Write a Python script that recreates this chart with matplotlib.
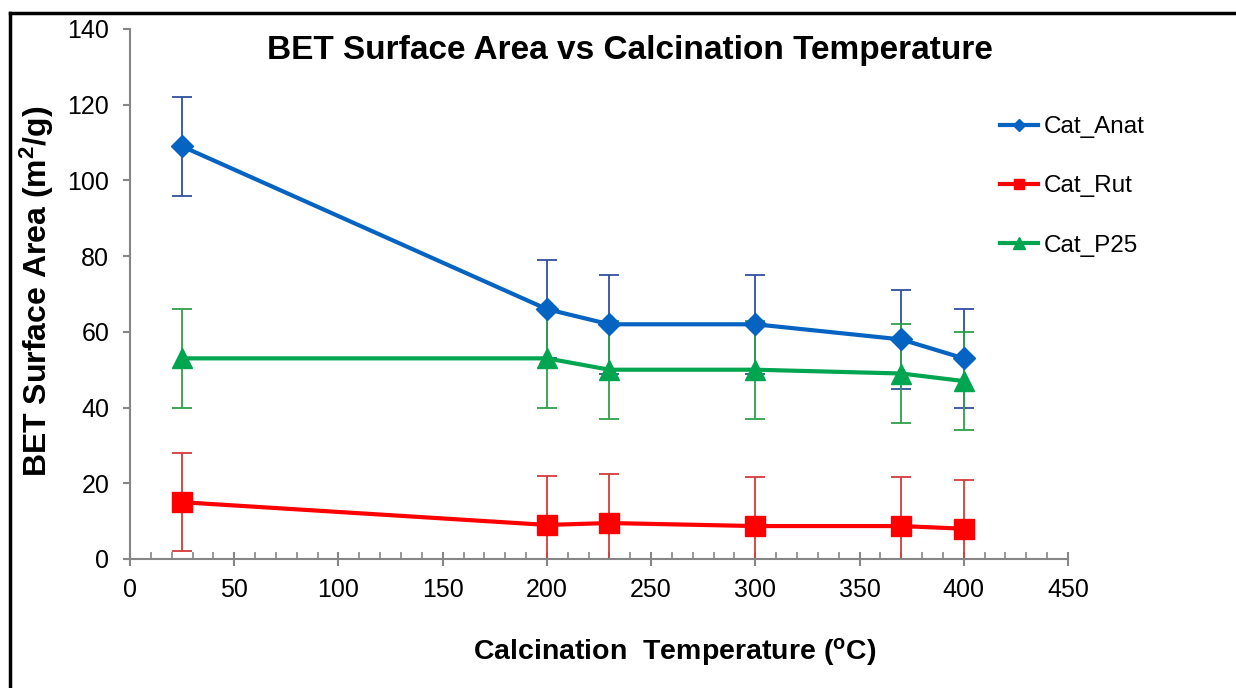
import matplotlib.pyplot as plt
from matplotlib.lines import Line2D
from matplotlib.ticker import MultipleLocator

plt.rcParams['font.family'] = ['Liberation Sans', 'DejaVu Sans']

# ---------------- data ----------------
temp = [25, 200, 230, 300, 370, 400]
anat = [109, 66, 62, 62, 58, 53]
rut = [15, 9, 9.5, 8.7, 8.7, 8]
p25 = [53, 53, 50, 50, 49, 47]
err = [13, 13, 13, 13, 13, 13]

names = ['Cat_Anat', 'Cat_Rut', 'Cat_P25']
series = [anat, rut, p25]
line_cols = ['#0563C1', '#FF0000', '#00A550']
err_cols = ['#2F4FA0', '#D43A3A', '#2EA04A']
markers = ['D', 's', '^']
msizes = [11, 14, 15]

# ---------------- figure ----------------
fig = plt.figure(figsize=(12.36, 6.88), dpi=100)
ax = fig.add_axes([130/1236, 1-559/688, (1068-130)/1236, (559-29)/688])

for y, c, ec, m, ms in zip(series, line_cols, err_cols, markers, msizes):
    ax.errorbar(temp, y, yerr=err, fmt='none', ecolor=ec, elinewidth=1.3,
                capsize=7, capthick=1.3, zorder=2)
    ax.plot(temp, y, color=c, lw=3, marker=m, ms=ms, zorder=3)

ax.set_xlim(0, 450)
ax.set_ylim(0, 140)
ax.xaxis.set_major_locator(MultipleLocator(50))
ax.xaxis.set_minor_locator(MultipleLocator(10))
ax.yaxis.set_major_locator(MultipleLocator(20))

for s in ['top', 'right']:
    ax.spines[s].set_visible(False)
for s in ['left', 'bottom']:
    ax.spines[s].set_color('#868686')
    ax.spines[s].set_linewidth(1.5)

ax.tick_params(axis='x', which='major', direction='inout', length=9.5, width=1.5,
               color='#868686', labelsize=18, pad=9)
ax.tick_params(axis='x', which='minor', direction='in', length=5, width=1.2,
               color='#868686')
ax.tick_params(axis='y', which='major', direction='out', length=5, width=1.5,
               color='#868686', labelsize=18, pad=10)

fig.text(630/1236, 1-50/688, 'BET Surface Area vs Calcination Temperature',
         ha='center', va='center', fontsize=24, fontweight='bold')
fig.text(675/1236, 1-652/688, r'Calcination  Temperature ($\mathregular{^o}$C)',
         ha='center', va='center', fontsize=20.5, fontweight='bold')
fig.text(37/1236, 1-291/688, r'BET Surface Area (m$\mathregular{^2}$/g)',
         ha='center', va='center', rotation=90, fontsize=23, fontweight='bold')

handles = [Line2D([], [], color=c, lw=3, marker=m, ms=ms * 0.55)
           for c, m, ms in zip(line_cols, markers, msizes)]
fig.legend(handles, names, loc='upper left', bbox_to_anchor=(988/1236, 1-104/688),
           frameon=False, fontsize=17.5, handlelength=1.55, handletextpad=0.25,
           labelspacing=1.53, borderpad=0)

# outer border (left and top only)
fig.add_artist(Line2D([10/1236, 10/1236], [0, 1-13/688], color='black', lw=2.5,
                      transform=fig.transFigure))
fig.add_artist(Line2D([10/1236, 1], [1-13/688, 1-13/688], color='black', lw=2.5,
                      transform=fig.transFigure))

fig.savefig('out.png', dpi=100)
